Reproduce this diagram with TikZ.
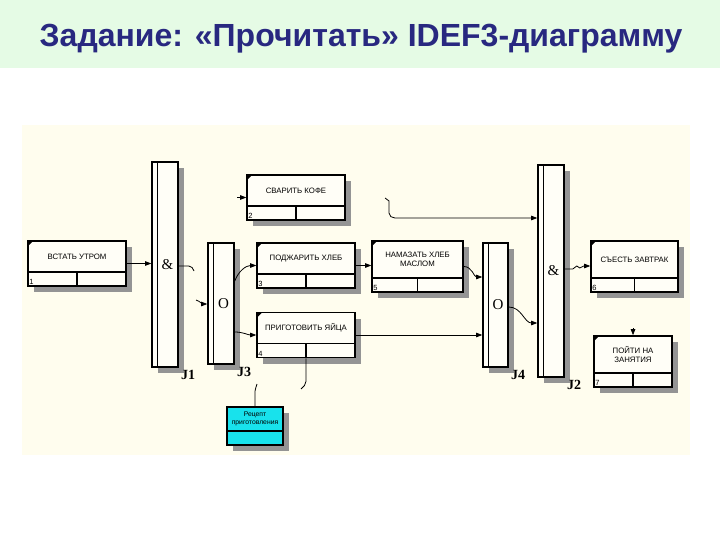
\documentclass[tikz,border=0pt]{standalone}
\usepackage{fontspec}
\setmainfont{Liberation Serif}
\newfontfamily\arialfont{Liberation Sans}
\usetikzlibrary{arrows.meta,shadows}

\definecolor{titlebg}{RGB}{229,251,229}
\definecolor{titleink}{RGB}{40,40,128}
\definecolor{paper}{RGB}{255,253,238}
\definecolor{boxfill}{RGB}{255,254,247}
\definecolor{refcyan}{RGB}{24,226,236}

\begin{document}
\begin{tikzpicture}[x=1pt, y=-1pt,
    hatch/.style={drop shadow={shadow xshift=6pt, shadow yshift=-6pt, opacity=1, fill=black!42}},
    uob/.style={draw, line width=1.6pt, fill=boxfill, inner sep=0pt, minimum width=98pt, minimum height=45pt, hatch,
      path picture={
        \draw[line width=1.6pt] ([yshift=14pt]path picture bounding box.south west) -- ([yshift=14pt]path picture bounding box.south east);
        \draw[line width=1.2pt] ([yshift=14pt]path picture bounding box.south) -- (path picture bounding box.south);
        \fill[black] (path picture bounding box.north west) -- ++(5pt,0pt) -- ++(-5pt,-5pt) -- cycle;}},
    refbox/.style={draw, line width=1.6pt, fill=refcyan, inner sep=0pt, minimum width=56pt, minimum height=38pt, hatch,
      path picture={
        \draw[line width=1.6pt] ([yshift=14pt]path picture bounding box.south west) -- ([yshift=14pt]path picture bounding box.south east);}},
    txt/.style={font=\arialfont\fontsize{7.8}{9.4}\selectfont, align=center, yshift=7pt},
    num/.style={anchor=south west, font=\arialfont\fontsize{7.5}{7.5}\selectfont, inner sep=2pt},
    jbar/.style={draw, line width=1.6pt, fill=boxfill, inner sep=0pt, minimum width=26pt, hatch,
      path picture={\draw[line width=1pt] ([xshift=5pt]path picture bounding box.north west) -- ([xshift=5pt]path picture bounding box.south west);}},
    jsym/.style={font=\fontsize{15}{15}\selectfont, xshift=2.5pt},
    jname/.style={anchor=north west, font=\bfseries\fontsize{14}{14}\selectfont, inner sep=2pt},
    flow/.style={line width=0.8pt, -{Triangle[length=6pt, width=4.5pt]}},
    link/.style={line width=0.8pt}]
    \useasboundingbox (0,0) rectangle (720,540);

    % slide title
    \fill[titlebg] (0,0) rectangle (720,68);
    \node[anchor=base, text=titleink, font=\arialfont\bfseries\fontsize{32}{36}\selectfont] (title) at (361,47) {Задание: «Прочитать» IDEF3-диаграмму};

    % sheet of the diagram
    \fill[paper] (22,125) rectangle (690,455);

    % junctions
    \node[jbar, minimum height=205pt, label={[jsym]center:\&}, label={[jname]south east:J1}] (j1) at (165,264.5) {};
    \node[jbar, minimum height=121pt, label={[jsym]center:O}, label={[jname]south east:J3}] (j3) at (221,303.5) {};
    \node[jbar, minimum width=25pt, minimum height=124pt, label={[jsym]center:O}, label={[jname]south east:J4}] (j4) at (495.5,305) {};
    \node[jbar, minimum height=212pt, label={[jsym]center:\&}, label={[jname]south east:J2}] (j2) at (551,271) {};

    % units of behaviour
    \node[uob, label={[txt]center:ВСТАТЬ УТРОМ}, label={[num]south west:1}] (wake) at (77,263.5) {};
    \node[uob, label={[txt]center:СВАРИТЬ КОФЕ}, label={[num]south west:2}] (coffee) at (296,197.5) {};
    \node[uob, label={[txt]center:ПОДЖАРИТЬ ХЛЕБ}, label={[num]south west:3}] (toast) at (306,265.5) {};
    \node[uob, label={[txt]center:ПРИГОТОВИТЬ ЯЙЦА}, label={[num]south west:4}] (eggs) at (306,335) {};
    \node[uob, minimum width=91pt, minimum height=51pt, label={[txt]center:НАМАЗАТЬ ХЛЕБ\\МАСЛОМ}, label={[num]south west:5}] (butter) at (417.5,266.5) {};
    \node[uob, minimum width=87pt, minimum height=51pt, label={[txt]center:СЪЕСТЬ ЗАВТРАК}, label={[num]south west:6}] (eat) at (634.5,266.5) {};
    \node[uob, minimum width=78pt, minimum height=51pt, label={[txt]center:ПОЙТИ НА\\ЗАНЯТИЯ}, label={[num]south west:7}] (go) at (633,361.5) {};

    % referent
    \node[refbox, label={[txt, font=\arialfont\fontsize{6.8}{8}\selectfont]center:Рецепт\\приготовления}] (recipe) at (255,426) {};

    % loose ends of the links
    \coordinate (j1out) at (194,271);
    \coordinate (j3in) at (196,300);
    \coordinate (cofin) at (237,197.5);
    \coordinate (cofout) at (385,198);
    \coordinate (goin) at (633,328);
    \coordinate (eggmech) at (301,389);
    \coordinate (recipeup) at (257,384);

    % links
    \draw[flow] (wake.east) -- (wake.east -| j1.west);
    \draw[link] (j1.east |- 0,266) -- ++(10,0) to[out=0,in=110] (j1out);
    \draw[flow] (j3in) to[out=-20,in=180] (j3.west |- 0,304);
    \draw[flow] (cofin) -- (coffee.west);
    \draw[flow] (j3.east |- 0,281) to[out=70,in=180] (toast.west);
    \draw[flow] (j3.east |- 0,332) to[out=0,in=180] (eggs.west);
    \draw[flow] (toast.east) -- (toast.east -| butter.west);
    \draw[flow] (butter.east) to[out=0,in=180] (j4.west |- 0,277);
    \draw[flow] (eggs.east) -- (eggs.east -| j4.west);
    \draw[flow] (j4.east |- 0,307) to[out=0,in=180] (j2.west |- 0,323);
    \draw[flow] (cofout) -- ++(4,3) -- ++(0,12) to[out=-90,in=180] ++(6,5) -- (j2.west |- 0,218);
    \draw[flow] (j2.east |- 0,269) -- ++(8,0) -- ++(4,-3) -- ++(3,2) -- ++(4,-2) -- (eat.west |- 0,266);
    \draw[flow] (goin) -- (go.north);
    \draw[link] (eggs.south) -- ++(0,23) to[out=-90,in=45] (eggmech);
    \draw[link] (recipe.north) -- ++(0,-15) to[out=90,in=-100] (recipeup);
\end{tikzpicture}
\end{document}
